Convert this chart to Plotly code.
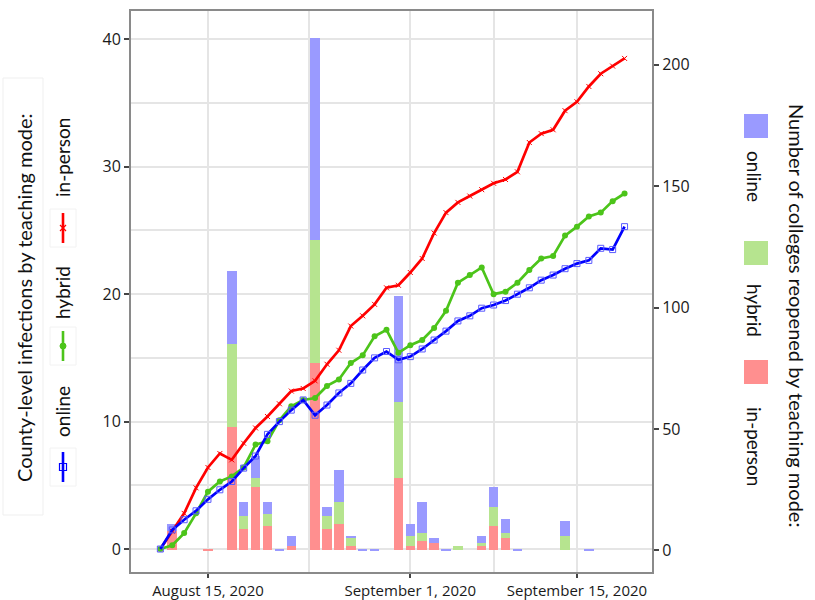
import pandas as pd
import plotly.graph_objects as go

# ---- data -------------------------------------------------------------
dates = pd.date_range("2020-08-11", "2020-09-19", freq="D")

# county-level infections (left axis), one value per day
inf_in_person = [0, 1.4, 2.8, 4.8, 6.4, 7.5, 7.0, 8.3, 9.5, 10.4,
                 11.4, 12.4, 12.6, 13.2, 14.5, 15.6, 17.5, 18.3, 19.2, 20.5,
                 20.7, 21.7, 22.8, 24.8, 26.4, 27.2, 27.7, 28.2, 28.7, 29.0,
                 29.6, 31.9, 32.6, 32.9, 34.4, 35.1, 36.3, 37.3, 37.9, 38.5]
inf_hybrid = [0, 0.3, 1.25, 2.8, 4.5, 5.3, 5.7, 6.4, 8.2, 8.45,
              10.1, 11.2, 11.7, 11.85, 12.8, 13.3, 14.6, 15.2, 16.7, 17.2,
              15.4, 16.0, 16.4, 17.35, 18.7, 20.9, 21.5, 22.1, 20.0, 20.2,
              20.9, 21.9, 22.8, 23.0, 24.6, 25.3, 26.1, 26.4, 27.3, 27.9]
inf_online = [0, 1.5, 2.3, 3.0, 3.9, 4.65, 5.3, 6.35, 7.3, 9.0,
              10.0, 10.9, 11.7, 10.5, 11.3, 12.25, 13.0, 14.05, 15.0, 15.5,
              14.85, 15.1, 15.7, 16.4, 17.1, 17.9, 18.3, 18.9, 19.15, 19.5,
              20.0, 20.5, 21.1, 21.5, 22.0, 22.4, 22.65, 23.6, 23.5, 25.3]

# colleges reopened per day (right axis)
col_in_person = [0, 8, 0, 0, 0.5, 0, 51, 9, 26, 10,
                 0, 2, 0, 77, 9, 11, 2, 0, 0, 0,
                 30, 2, 4, 3, 0, 0, 0, 2, 10, 5,
                 0, 0, 0, 0, 0, 0, 0, 0, 0, 0]
col_hybrid = [0, 0, 0, 0, 0, 0, 34, 5, 4, 5,
              0, 0, 0, 51, 5, 9, 3, 0, 0, 0,
              31, 4, 3, 0, 0, 2, 0, 1, 8, 2,
              0, 0, 0, 0, 6, 0, 0, 0, 0, 0]
col_online = [0, 3, 0, 0, 0, 0, 30, 6, 9, 5,
              0.5, 4, 0, 83, 4, 13, 1, 0.5, 0.5, 0,
              44, 5, 13, 2, 0.5, 0, 0, 3, 8, 6,
              0.5, 0, 0, 0, 6, 0, 0.5, 0, 0, 0]

tick_dates = ["2020-08-15", "2020-09-01", "2020-09-15"]
tick_labels = ["August 15, 2020", "September 1, 2020", "September 15, 2020"]
minor_dates = ["2020-08-23 12:00", "2020-09-08"]

# ---- styling ----------------------------------------------------------
RED, GREEN, BLUE = "#ff0000", "#4cc41a", "#0000ff"
RED_BAR, GREEN_BAR, BLUE_BAR = "#ff8f8f", "#b6e48f", "#9a9aff"
GRID = "#e5e5e5"
TICKFONT = dict(family="Open Sans", size=16, color="#1a1a1a")
LEGFONT = "Lato"

W, H = 815, 600
L, R, T, B = 130, 162, 10, 27
PW, PH = W - L - R, H - T - B


def px(x):
    return (x - L) / PW


def py(y):
    return (H - B - y) / PH


fig = go.Figure()

# stacked bars: colleges reopened
bar_w = 0.8 * 86400000
for vals, col in [(col_in_person, RED_BAR), (col_hybrid, GREEN_BAR), (col_online, BLUE_BAR)]:
    fig.add_trace(go.Bar(x=dates, y=vals, width=bar_w, marker=dict(color=col, line_width=0),
                         yaxis="y", showlegend=False))

# infection lines
fig.add_trace(go.Scatter(x=dates, y=inf_in_person, mode="lines+markers", yaxis="y2",
                         line=dict(color=RED, width=2.7),
                         marker=dict(symbol="x-thin", size=5, line=dict(color=RED, width=1)),
                         showlegend=False))
fig.add_trace(go.Scatter(x=dates, y=inf_hybrid, mode="lines+markers", yaxis="y2",
                         line=dict(color=GREEN, width=2.7),
                         marker=dict(symbol="circle", size=6, color=GREEN),
                         showlegend=False))
fig.add_trace(go.Scatter(x=dates, y=inf_online, mode="lines+markers", yaxis="y2",
                         line=dict(color=BLUE, width=2.7),
                         marker=dict(symbol="square-open", size=6, color="#5a5aff", line=dict(width=1)),
                         showlegend=False))

aug15 = pd.Timestamp("2020-08-15")
x_range = [aug15 + pd.Timedelta(days=-6.55), aug15 + pd.Timedelta(days=37.39)]

fig.update_layout(
    width=W, height=H, margin=dict(l=L, r=R, t=T, b=B),
    paper_bgcolor="white", plot_bgcolor="white",
    barmode="stack", bargap=0,
    xaxis=dict(type="date", range=x_range, tickmode="array", tickvals=tick_dates,
               ticktext=tick_labels, tickfont=dict(family="Open Sans", size=15, color="#1a1a1a"),
               showgrid=True, gridcolor=GRID, gridwidth=1.6, automargin=False,
               ticks="outside", ticklen=4, tickwidth=1.5, tickcolor="#444",
               minor=dict(tickmode="array", tickvals=minor_dates, showgrid=True,
                          gridcolor=GRID, gridwidth=1.6, ticks=""),
               zeroline=False, showline=False),
    yaxis=dict(side="right", range=[-9.3, 222.6], tickvals=[0, 50, 100, 150, 200],
               tickfont=TICKFONT, showgrid=False, zeroline=False, automargin=False,
               ticks="outside", ticklen=5, tickwidth=1.5, tickcolor="#444"),
    yaxis2=dict(side="left", overlaying="y", range=[-1.88, 42.3], tickvals=[0, 10, 20, 30, 40],
                tickfont=TICKFONT, showgrid=True, gridcolor=GRID, gridwidth=1.6, automargin=False,
                minor=dict(dtick=5, showgrid=True, gridcolor=GRID, gridwidth=1.6, ticks=""),
                zeroline=False, ticks="outside", ticklen=5, tickwidth=1.5, tickcolor="#444"),
)

shapes = []
annotations = []

# panel border
shapes.append(dict(type="rect", xref="paper", yref="paper", x0=0, x1=1, y0=0, y1=1,
                   line=dict(color="#8a8a8a", width=2), layer="above"))

# left legend: infections by teaching mode (rotated)
shapes.append(dict(type="rect", xref="paper", yref="paper", x0=px(3), x1=px(43), y0=py(515), y1=py(78),
                   line=dict(color="#efefef", width=1)))
annotations.append(dict(text="County-level infections by teaching mode:", xref="paper", yref="paper",
                        x=px(24), y=py(298), textangle=-90, showarrow=False,
                        font=dict(family=LEGFONT, size=20, color="#111"),
                        xanchor="center", yanchor="middle"))
left_items = [("in-person", 158, 228, RED, "x"), ("hybrid", 293, 346, GREEN, "circle"),
              ("online", 412, 467, BLUE, "square")]
kx = 63
for label, ty, ky, col, sym in left_items:
    annotations.append(dict(text=label, xref="paper", yref="paper", x=px(kx), y=py(ty),
                            textangle=-90, showarrow=False,
                            font=dict(family=LEGFONT, size=19, color="#111"),
                            xanchor="center", yanchor="middle"))
    shapes.append(dict(type="rect", xref="paper", yref="paper", x0=px(kx - 13), x1=px(kx + 13),
                       y0=py(ky + 19), y1=py(ky - 19), line=dict(color="#f2f2f2", width=1)))
    shapes.append(dict(type="line", xref="paper", yref="paper", x0=px(kx), x1=px(kx),
                       y0=py(ky + 15), y1=py(ky - 15), line=dict(color=col, width=2.6)))
    if sym == "x":
        for dy in (-3, 3):
            shapes.append(dict(type="line", xref="paper", yref="paper", x0=px(kx - 3), x1=px(kx + 3),
                               y0=py(ky - dy), y1=py(ky + dy), line=dict(color=col, width=1.2)))
    elif sym == "circle":
        shapes.append(dict(type="circle", xref="paper", yref="paper", x0=px(kx - 3), x1=px(kx + 3),
                           y0=py(ky + 3), y1=py(ky - 3), fillcolor=col, line=dict(color=col, width=1)))
    else:
        shapes.append(dict(type="rect", xref="paper", yref="paper", x0=px(kx - 3.5), x1=px(kx + 3.5),
                           y0=py(ky + 3.5), y1=py(ky - 3.5), line=dict(color=col, width=1.2)))

# right legend: colleges reopened by teaching mode (rotated)
annotations.append(dict(text="Number of colleges reopened by teaching mode:", xref="paper", yref="paper",
                        x=px(797), y=py(315), textangle=90, showarrow=False,
                        font=dict(family=LEGFONT, size=20, color="#111"),
                        xanchor="center", yanchor="middle"))
right_items = [("online", 126, 176, BLUE_BAR), ("hybrid", 253, 310, GREEN_BAR),
               ("in-person", 372, 446, RED_BAR)]
for label, sy, ty, col in right_items:
    shapes.append(dict(type="rect", xref="paper", yref="paper", x0=px(744), x1=px(768),
                       y0=py(sy + 12), y1=py(sy - 12), fillcolor=col, line=dict(width=0)))
    annotations.append(dict(text=label, xref="paper", yref="paper", x=px(755), y=py(ty),
                            textangle=90, showarrow=False,
                            font=dict(family=LEGFONT, size=19, color="#111"),
                            xanchor="center", yanchor="middle"))

fig.update_layout(shapes=shapes, annotations=annotations)

fig.write_html("out.html")
